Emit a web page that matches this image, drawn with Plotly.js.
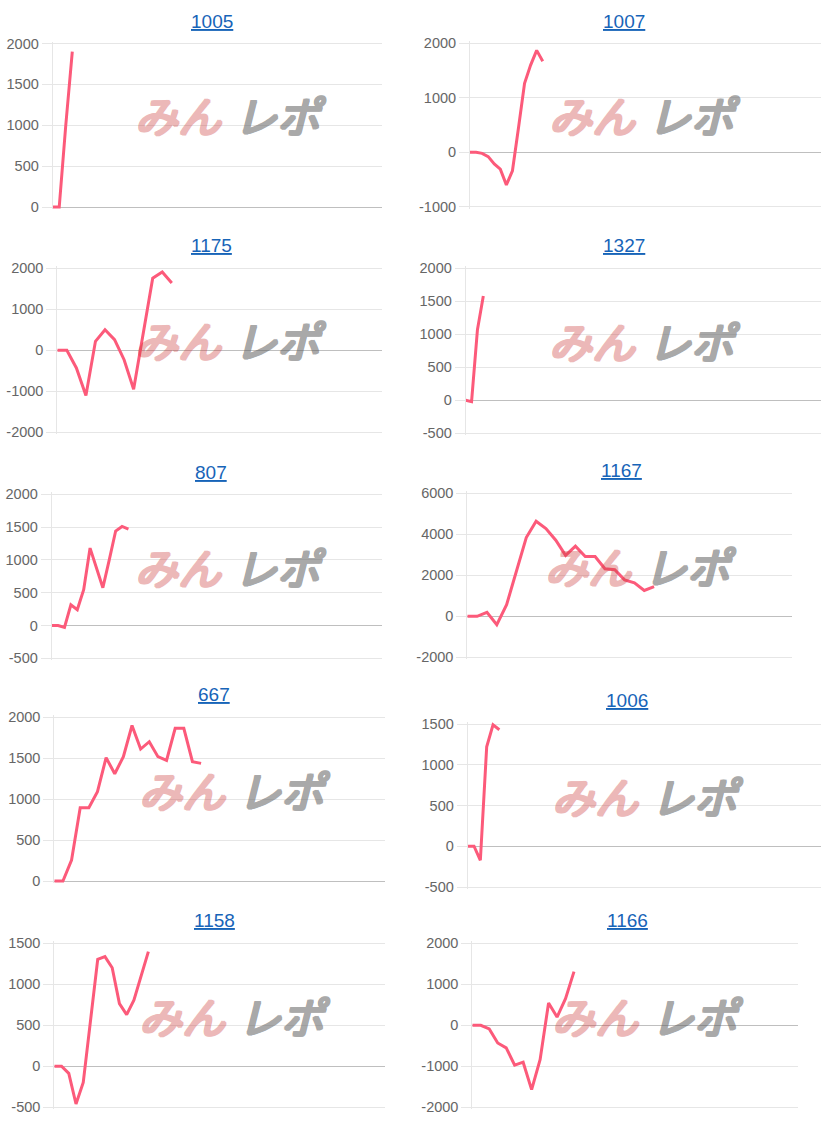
<!DOCTYPE html>
<html>
<head>
<meta charset="utf-8">
<script src="https://cdn.plot.ly/plotly-3.0.1.min.js"></script>
<style>
html,body{margin:0;padding:0;background:#fff;}
#chart{width:821px;height:1125px;}
</style>
</head>
<body>
<div id="chart"></div>
<script>
// ---------- DATA ----------
const machineNumbers = ['1005', '1007', '1175', '1327', '807', '1167', '667', '1006', '1158', '1166'];

const diff1005 = [0, 0, 1000, 1900];
const diff1007 = [0, 0, -20, -80, -215, -310, -600, -340, 450, 1265, 1600, 1870, 1670];
const diff1175 = [0, 0, -430, -1100, 220, 500, 260, -230, -950, 380, 1760, 1910, 1640];
const diff1327 = [0, -20, 1070, 1580];
const diff807  = [0, 0, -30, 315, 240, 545, 1180, 875, 575, 1000, 1440, 1510, 1470];
const diff1167 = [0, 0, 195, -410, 570, 2200, 3840, 4640, 4280, 3710, 2970, 3420, 2920, 2920, 2320, 2270, 1780, 1630, 1260, 1450];
const diff667  = [0, 0, 256, 896, 896, 1092, 1507, 1310, 1519, 1900, 1612, 1702, 1519, 1474, 1865, 1865, 1458, 1437];
const diff1006 = [0, 0, -172, 1220, 1490, 1430];
const diff1158 = [0, 0, -86, -460, -196, 550, 1304, 1337, 1202, 764, 630, 806, 1100, 1398];
const diff1166 = [0, 0, -90, -430, -550, -970, -900, -1570, -840, 545, 200, 650, 1310];

const seriesValues = [diff1005, diff1007, diff1175, diff1327, diff807, diff1167, diff667, diff1006, diff1158, diff1166];

// number of x slots spanned by each chart's axis
const slotSpan = [50.4, 57.9, 34.0, 60.5, 51.6, 33.0, 38.3, 55.8, 45.7, 38.4];

const ticks1005 = [0, 500, 1000, 1500, 2000];
const ticks1007 = [-1000, 0, 1000, 2000];
const ticks1175 = [-2000, -1000, 0, 1000, 2000];
const ticks1327 = [-500, 0, 500, 1000, 1500, 2000];
const ticks807  = [-500, 0, 500, 1000, 1500, 2000];
const ticks1167 = [-2000, 0, 2000, 4000, 6000];
const ticks667  = [0, 500, 1000, 1500, 2000];
const ticks1006 = [-500, 0, 500, 1000, 1500];
const ticks1158 = [-500, 0, 500, 1000, 1500];
const ticks1166 = [-2000, -1000, 0, 1000, 2000];
const yTicks = [ticks1005, ticks1007, ticks1175, ticks1327, ticks807, ticks1167, ticks667, ticks1006, ticks1158, ticks1166];

const watermarkLeft = 'みん';
const watermarkRight = 'レポ';

// ---------- LAYOUT (pixel geometry) ----------
const W = 821, H = 1125;
const boxes = [
  {l: 52.7, r: 382,   t: 43.5,  b: 207,    tx: 212,   ty: 21,    wx: 228, wy: 114.5},
  {l: 470,  r: 821,   t: 43.3,  b: 206.7,  tx: 624,   ty: 21,    wx: 642, wy: 114.5},
  {l: 57.3, r: 381.7, t: 268.3, b: 432.3,  tx: 211.7, ty: 245.7, wx: 228, wy: 339.5},
  {l: 465.7,r: 821,   t: 268.3, b: 433.3,  tx: 624.3, ty: 245.7, wx: 642, wy: 340.5},
  {l: 51.7, r: 381.7, t: 494.3, b: 658.3,  tx: 211,   ty: 472.7, wx: 228, wy: 565.5},
  {l: 467.3,r: 791.7, t: 493.3, b: 657.3,  tx: 621.3, ty: 470.7, wx: 638, wy: 564.5},
  {l: 54.3, r: 385,   t: 717.3, b: 881,    tx: 214,   ty: 694.3, wx: 232, wy: 789},
  {l: 467.7,r: 821,   t: 724,   b: 887,    tx: 627.3, ty: 701,   wx: 645, wy: 794.5},
  {l: 54.3, r: 385,   t: 943.3, b: 1107.3, tx: 214.3, ty: 920.7, wx: 232, wy: 1014.5},
  {l: 472.3,r: 797.7, t: 943.3, b: 1107.3, tx: 627.3, ty: 920.7, wx: 645, wy: 1014.5}
];

const LINE_COLOR = 'rgb(252,90,122)';
const GRID = '#e6e6e6';
const ZERO = '#bfbfbf';
const TICKFONT = {family: 'Liberation Sans, Arial, sans-serif', size: 14.5, color: '#666666'};
const PAD = 2; // px of padding so edge gridlines are drawn

function heavyShadow(c) {
  return ['1.2px 0 0 ' + c, '-1.2px 0 0 ' + c, '0 1.2px 0 ' + c, '0 -1.2px 0 ' + c,
          '1.2px 1.2px 0 ' + c, '-1.2px -1.2px 0 ' + c, '1.2px -1.2px 0 ' + c, '-1.2px 1.2px 0 ' + c].join(', ');
}
const PINK = 'rgb(205,60,60)';
const GREY = 'rgb(100,100,100)';

const traces = [];
const layout = {
  width: W, height: H,
  margin: {l: 0, r: 0, t: 0, b: 0},
  paper_bgcolor: '#ffffff', plot_bgcolor: 'rgba(0,0,0,0)',
  showlegend: false,
  annotations: []
};

seriesValues.forEach((vals, i) => {
  const bx = boxes[i];
  const n = i === 0 ? '' : String(i + 1);
  const xs = vals.map((_, k) => k);
  traces.push({
    type: 'scatter', mode: 'lines',
    x: xs, y: vals,
    xaxis: 'x' + n, yaxis: 'y' + n,
    line: {color: LINE_COLOR, width: 3},
    hoverinfo: 'skip'
  });
  const ticks = yTicks[i];
  const ymin = Math.min(...ticks), ymax = Math.max(...ticks);
  const hpx = bx.b - bx.t;
  const per = (ymax - ymin) / hpx;
  layout['xaxis' + n] = {
    domain: [bx.l / W, Math.min(1, bx.r / W)],
    anchor: 'y' + n,
    range: [0, slotSpan[i]],
    showgrid: false, zeroline: false, showticklabels: false, ticks: '', showline: false,
    fixedrange: true
  };
  layout['yaxis' + n] = {
    domain: [1 - (bx.b + PAD) / H, 1 - (bx.t - PAD) / H],
    anchor: 'x' + n,
    range: [ymin - PAD * per, ymax + PAD * per],
    tickmode: 'array', tickvals: ticks, ticktext: ticks.map(String),
    showgrid: true, gridcolor: GRID, gridwidth: 1,
    zeroline: true, zerolinecolor: ZERO, zerolinewidth: 1,
    showline: true, linecolor: GRID, linewidth: 1,
    ticks: 'outside', ticklen: 10, tickcolor: GRID, tickwidth: 1,
    tickfont: TICKFONT,
    fixedrange: true
  };
  // title
  layout.annotations.push({
    xref: 'paper', yref: 'paper', x: bx.tx / W, y: 1 - bx.ty / H,
    xanchor: 'center', yanchor: 'middle', showarrow: false,
    text: machineNumbers[i],
    font: {family: 'Liberation Sans, Arial, sans-serif', size: 19, color: '#1764b8', lineposition: 'under'}
  });
  // watermark
  layout.annotations.push({
    xref: 'paper', yref: 'paper', x: (bx.wx - 4) / W, y: 1 - bx.wy / H,
    xanchor: 'right', yanchor: 'middle', showarrow: false,
    text: watermarkLeft, opacity: 0.36,
    font: {family: 'Noto Sans CJK JP, sans-serif', size: 43, style: 'italic', color: PINK, shadow: heavyShadow(PINK)}
  });
  layout.annotations.push({
    xref: 'paper', yref: 'paper', x: (bx.wx + 4) / W, y: 1 - bx.wy / H,
    xanchor: 'left', yanchor: 'middle', showarrow: false,
    text: watermarkRight, opacity: 0.55,
    font: {family: 'Noto Sans CJK JP, sans-serif', size: 43, style: 'italic', color: GREY, shadow: heavyShadow(GREY)}
  });
});

Plotly.newPlot('chart', traces, layout, {staticPlot: true, displayModeBar: false});
</script>
</body>
</html>
